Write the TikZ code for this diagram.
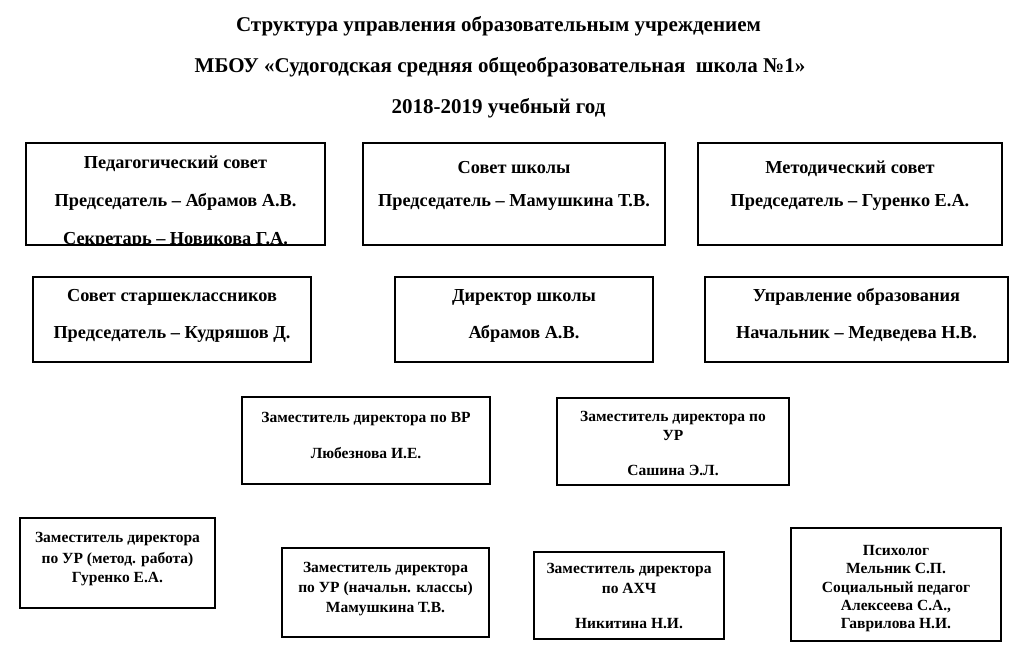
\documentclass[tikz,border=0pt]{standalone}
\usepackage{fontspec}
\setmainfont{Liberation Serif}
\tikzset{
  box/.style={draw, line width=2.4pt, inner sep=0pt},
  bigt/.style={anchor=base, inner sep=0pt, font=\bfseries\fontsize{18.3}{21}\selectfont},
  smt/.style={anchor=base, inner sep=0pt, font=\bfseries\fontsize{15.5}{18}\selectfont},
  titlet/.style={anchor=base, inner sep=0pt, font=\bfseries\fontsize{21}{24}\selectfont},
}
\begin{document}
\begin{tikzpicture}[x=1pt,y=-1pt]
\useasboundingbox[fill=white] (0,0) rectangle (1024,663);
% title
\node[titlet] (h1) at (498.5,32) {Структура управления образовательным учреждением};
\node[titlet] (h2) at (500,73) {МБОУ «Судогодская средняя общеобразовательная\ \ школа №1»};
\node[titlet] (h3) at (498.5,114) {2018-2019 учебный год};
% row 1
\node[box, minimum width=299, minimum height=102] (b1) at (175.5,194) {};
\begin{scope}
\clip (26,143) rectangle (325,244);
\node[bigt] (b1a) at (175.5,168) {Педагогический совет};
\node[bigt] (b1b) at (175.5,206) {Председатель – Абрамов А.В.};
\node[bigt] (b1c) at (175.5,244) {Секретарь – Новикова Г.А.};
\end{scope}
\node[box, minimum width=302, minimum height=102] (b2) at (514,194) {};
\node[bigt] (b2a) at (514,174) {Совет школы};
\node[bigt] (b2b) at (514,206) {Председатель – Мамушкина Т.В.};
\node[box, minimum width=304, minimum height=102] (b3) at (850,194) {};
\node[bigt] (b3a) at (850,174) {Методический совет};
\node[bigt] (b3b) at (850,206) {Председатель – Гуренко Е.А.};
% row 2
\node[box, minimum width=278, minimum height=85] (b4) at (172,319.5) {};
\node[bigt] (b4a) at (172,301) {Совет старшеклассников};
\node[bigt] (b4b) at (172,338) {Председатель – Кудряшов Д.};
\node[box, minimum width=258, minimum height=85] (b5) at (524,319.5) {};
\node[bigt] (b5a) at (524,301) {Директор школы};
\node[bigt] (b5b) at (524,338) {Абрамов А.В.};
\node[box, minimum width=303, minimum height=85] (b6) at (856.5,319.5) {};
\node[bigt] (b6a) at (856.5,301) {Управление образования};
\node[bigt] (b6b) at (856.5,338) {Начальник – Медведева Н.В.};
% row 3
\node[box, minimum width=248, minimum height=87] (b7) at (366,440.5) {};
\node[smt] (b7a) at (366,422) {Заместитель директора по ВР};
\node[smt] (b7b) at (366,458) {Любезнова И.Е.};
\node[box, minimum width=232, minimum height=87] (b8) at (673,441.5) {};
\node[smt] (b8a) at (673,421) {Заместитель директора по};
\node[smt] (b8b) at (673,440) {УР};
\node[smt] (b8c) at (673,475) {Сашина Э.Л.};
% row 4
\node[box, minimum width=195, minimum height=90] (b9) at (117.5,563) {};
\node[smt] (b9a) at (117.5,542) {Заместитель директора};
\node[smt] (b9b) at (117.5,563) {по УР (метод. работа)};
\node[smt] (b9c) at (117.5,582) {Гуренко Е.А.};
\node[box, minimum width=207, minimum height=89] (b10) at (385.5,592.5) {};
\node[smt] (b10a) at (385.5,572) {Заместитель директора};
\node[smt] (b10b) at (385.5,592) {по УР (начальн. классы)};
\node[smt] (b10c) at (385.5,612) {Мамушкина Т.В.};
\node[box, minimum width=190, minimum height=87] (b11) at (629,595.5) {};
\node[smt] (b11a) at (629,573) {Заместитель директора};
\node[smt] (b11b) at (629,593) {по АХЧ};
\node[smt] (b11c) at (629,628) {Никитина Н.И.};
\node[box, minimum width=210, minimum height=113] (b12) at (896,584.5) {};
\node[smt] (b12a) at (896,555) {Психолог};
\node[smt] (b12b) at (896,573) {Мельник С.П.};
\node[smt] (b12c) at (896,592) {Социальный педагог};
\node[smt] (b12d) at (896,610) {Алексеева С.А.,};
\node[smt] (b12e) at (896,628) {Гаврилова Н.И.};
\end{tikzpicture}
\end{document}
